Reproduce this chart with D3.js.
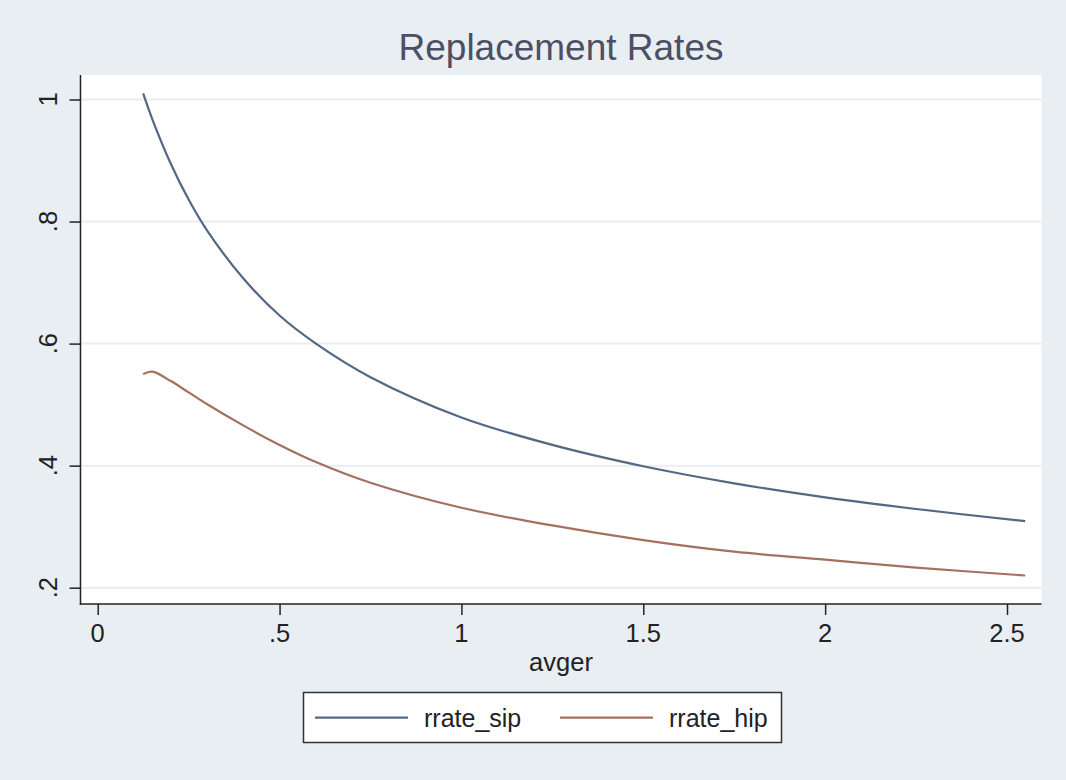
<!DOCTYPE html>
<html>
<head>
<meta charset="utf-8">
<script src="https://cdn.jsdelivr.net/npm/d3@7"></script>
<style>
  html, body { margin: 0; padding: 0; background: #e8eef2; }
  svg { display: block; }
  text { font-family: "Liberation Sans", Arial, Helvetica, sans-serif; }
</style>
</head>
<body>
<svg id="chart" width="1066" height="780"></svg>
<script>
// ---- data ----
const avger    = [0.125, 0.15, 0.2, 0.25, 0.3, 0.4, 0.5, 0.6, 0.75, 1.0, 1.25, 1.5, 1.75, 2.0, 2.25, 2.55];
const rrateSip = [1.010, 0.968, 0.896, 0.836, 0.786, 0.707, 0.646, 0.600, 0.545, 0.479, 0.434, 0.399, 0.371, 0.348, 0.329, 0.309];
const rrateHip = [0.550, 0.554, 0.539, 0.520, 0.501, 0.466, 0.434, 0.406, 0.372, 0.331, 0.302, 0.278, 0.259, 0.246, 0.233, 0.220];
const xTicks = [0, 0.5, 1, 1.5, 2, 2.5];
const xTickLabels = ["0", ".5", "1", "1.5", "2", "2.5"];
const yTicks = [0.2, 0.4, 0.6, 0.8, 1.0];
const yTickLabels = [".2", ".4", ".6", ".8", "1"];
const seriesNames = ["rrate_sip", "rrate_hip"];
const seriesColors = ["#536883", "#a5705f"];
const titleText = "Replacement Rates";
const xTitle = "avger";

// ---- layout ----
const svg = d3.select("#chart");
const W = 1066, H = 780;
const plot = { left: 80.5, right: 1041.5, top: 75, bottom: 604 };

svg.append("rect").attr("width", W).attr("height", H).attr("fill", "#e8eef2");
svg.append("rect")
  .attr("x", plot.left).attr("y", plot.top)
  .attr("width", plot.right - plot.left).attr("height", plot.bottom - plot.top)
  .attr("fill", "#ffffff");

const x = d3.scaleLinear().domain([0, 2.5]).range([97.7, 1007]);
const y = d3.scaleLinear().domain([0.2, 1.0]).range([587.7, 99.5]);

// gridlines
svg.append("g").selectAll("line").data(yTicks).join("line")
  .attr("x1", plot.left).attr("x2", plot.right)
  .attr("y1", d => y(d)).attr("y2", d => y(d))
  .attr("stroke", "#e8eef2").attr("stroke-width", 2);

// series
const rows = [rrateSip, rrateHip];
rows.forEach((vals, i) => {
  const pts = avger.map((a, j) => [a, vals[j]]);
  const line = d3.line().x(d => x(d[0])).y(d => y(d[1])).curve(d3.curveCatmullRom.alpha(0.5));
  svg.append("path").datum(pts)
    .attr("d", line)
    .attr("fill", "none")
    .attr("stroke", seriesColors[i])
    .attr("stroke-width", 2.2);
});

// y axis
const yAxis = d3.axisLeft(y).tickValues(yTicks).tickFormat((d, i) => yTickLabels[i]).tickSize(11).tickPadding(0);
const gy = svg.append("g").attr("transform", `translate(${plot.left},0)`).call(yAxis);
gy.select(".domain").remove();
gy.selectAll(".tick line").attr("stroke", "#222").attr("stroke-width", 1.5);
gy.selectAll(".tick text").remove();
svg.append("line").attr("x1", plot.left).attr("x2", plot.left)
  .attr("y1", plot.top).attr("y2", plot.bottom + 0.75)
  .attr("stroke", "#222").attr("stroke-width", 1.5);
svg.append("g").selectAll("text").data(yTicks).join("text")
  .attr("transform", d => `translate(56.5,${y(d)}) rotate(-90)`)
  .attr("text-anchor", "middle")
  .attr("font-size", 25.5)
  .attr("fill", "#222")
  .text((d, i) => yTickLabels[i]);

// x axis
const xAxis = d3.axisBottom(x).tickValues(xTicks).tickFormat((d, i) => xTickLabels[i]).tickSize(11).tickPadding(0);
const gx = svg.append("g").attr("transform", `translate(0,${plot.bottom})`).call(xAxis);
gx.select(".domain").remove();
gx.selectAll(".tick line").attr("stroke", "#222").attr("stroke-width", 1.5);
gx.selectAll(".tick text").remove();
svg.append("line").attr("x1", plot.left - 0.75).attr("x2", plot.right)
  .attr("y1", plot.bottom).attr("y2", plot.bottom)
  .attr("stroke", "#222").attr("stroke-width", 1.5);
svg.append("g").selectAll("text").data(xTicks).join("text")
  .attr("x", d => x(d)).attr("y", 642)
  .attr("text-anchor", "middle")
  .attr("font-size", 25.5)
  .attr("fill", "#222")
  .text((d, i) => xTickLabels[i]);

// axis title
svg.append("text").attr("x", (plot.left + plot.right) / 2).attr("y", 671)
  .attr("text-anchor", "middle").attr("font-size", 25.5).attr("fill", "#222")
  .text(xTitle);

// title
svg.append("text").attr("x", (plot.left + plot.right) / 2).attr("y", 60)
  .attr("text-anchor", "middle").attr("font-size", 37).attr("fill", "#4b5064")
  .text(titleText);

// legend
const lg = svg.append("g");
lg.append("rect").attr("x", 303.5).attr("y", 692.5).attr("width", 478).attr("height", 50)
  .attr("fill", "#ffffff").attr("stroke", "#333").attr("stroke-width", 1.5);
const legendItems = [
  { x1: 315, x2: 408, tx: 424 },
  { x1: 560, x2: 653, tx: 669 }
];
legendItems.forEach((it, i) => {
  lg.append("line").attr("x1", it.x1).attr("x2", it.x2).attr("y1", 717.7).attr("y2", 717.7)
    .attr("stroke", seriesColors[i]).attr("stroke-width", 2.2);
  lg.append("text").attr("x", it.tx).attr("y", 726.5).attr("font-size", 25).attr("fill", "#222")
    .text(seriesNames[i]);
});
</script>
</body>
</html>
